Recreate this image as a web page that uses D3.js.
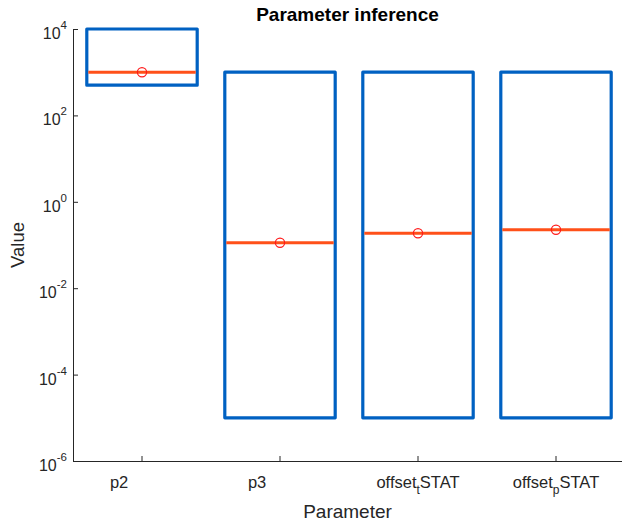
<!DOCTYPE html>
<html>
<head>
<meta charset="utf-8">
<script src="https://d3js.org/d3.v7.min.js"></script>
<style>
  html, body { margin: 0; padding: 0; background: #fff; }
  svg { display: block; font-family: "Liberation Sans", Arial, sans-serif; }
  text { white-space: pre; }
</style>
</head>
<body>
<svg id="chart" width="622" height="526"></svg>
<script>
// Parameter names; "_x" marks a subscripted character in the label
const categories = ["p2", "p3", "offset_tSTAT", "offset_pSTAT"];
const boxLow = [500, 1e-5, 1e-5, 1e-5];
const boxHigh = [1e4, 1000, 1000, 1000];
const medians = [1000, 0.113, 0.187, 0.226];
const estimates = [1000, 0.113, 0.187, 0.226];
const yTickExps = [-6, -4, -2, 0, 2, 4];

// Tick labels are padded with blanks to a common length (char-matrix style)
const labelLen = d3.max(categories, c => c.length);
const tickLabels = categories.map(c => c.padEnd(labelLen, " "));

const svg = d3.select("#chart");
const plotLeft = 73, plotRight = 625, plotTop = 29, plotBottom = 461;
const axisColor = "#262626";

const x = d3.scaleBand().domain(categories).range([plotLeft, plotRight]).padding(0);
const y = d3.scaleLog().domain([1e-6, 1e4]).range([plotBottom, plotTop]);
const boxW = x.bandwidth() * 0.8;

// Boxes, median lines and estimate markers
const g = svg.append("g");
categories.forEach((c, i) => {
  const cx = x(c) + x.bandwidth() / 2;
  g.append("rect")
    .attr("x", cx - boxW / 2)
    .attr("y", y(boxHigh[i]))
    .attr("width", boxW)
    .attr("height", y(boxLow[i]) - y(boxHigh[i]))
    .attr("fill", "none")
    .attr("stroke", "#0061c2")
    .attr("stroke-width", 3.2)
    .attr("stroke-linejoin", "round");
  g.append("line")
    .attr("x1", cx - boxW / 2 + 1.5)
    .attr("x2", cx + boxW / 2 - 1.5)
    .attr("y1", y(medians[i]))
    .attr("y2", y(medians[i]))
    .attr("stroke", "#ff5019")
    .attr("stroke-width", 3);
  g.append("circle")
    .attr("cx", cx)
    .attr("cy", y(estimates[i]))
    .attr("r", 4.6)
    .attr("fill", "none")
    .attr("stroke", "#ff1a1a")
    .attr("stroke-width", 1.2);
});

// Y axis (ticks pointing inward)
const yAxis = d3.axisLeft(y)
  .tickValues(yTickExps.map(e => Math.pow(10, e)))
  .tickSizeInner(-5).tickSizeOuter(0).tickFormat("");
const yg = svg.append("g").attr("transform", `translate(${plotLeft},0)`).call(yAxis);
yg.select(".domain").attr("stroke", axisColor).attr("stroke-width", 1);
yg.selectAll(".tick line").attr("stroke", axisColor);
yTickExps.forEach(e => {
  const t = svg.append("text")
    .attr("x", plotLeft - 6)
    .attr("y", y(Math.pow(10, e)) + 10)
    .attr("text-anchor", "end")
    .attr("fill", axisColor)
    .attr("font-size", 16);
  t.append("tspan").text("10");
  t.append("tspan").attr("dy", -10).attr("font-size", 11.5).text(String(e));
});

// X axis (ticks pointing inward)
const xAxis = d3.axisBottom(x).tickSizeInner(-5).tickSizeOuter(0).tickFormat("");
const xg = svg.append("g").attr("transform", `translate(0,${plotBottom})`).call(xAxis);
xg.select(".domain").attr("stroke", axisColor).attr("stroke-width", 1);
xg.selectAll(".tick line").attr("stroke", axisColor);
tickLabels.forEach((lab, i) => {
  const cx = x(categories[i]) + x.bandwidth() / 2;
  const t = svg.append("text")
    .attr("x", cx)
    .attr("y", plotBottom + 27)
    .attr("text-anchor", "middle")
    .attr("fill", axisColor)
    .attr("font-size", 16.5);
  const k = lab.indexOf("_");
  if (k < 0) {
    t.append("tspan").text(lab);
  } else {
    t.append("tspan").text(lab.slice(0, k));
    t.append("tspan").attr("dy", 6).attr("font-size", 12).text(lab[k + 1]);
    t.append("tspan").attr("dy", -6).text(lab.slice(k + 2));
  }
});

// Titles
svg.append("text")
  .attr("x", (plotLeft + 622) / 2).attr("y", 21)
  .attr("text-anchor", "middle")
  .attr("font-weight", "bold").attr("font-size", 19)
  .attr("fill", "#000")
  .text("Parameter inference");

svg.append("text")
  .attr("x", (plotLeft + 622) / 2).attr("y", 518)
  .attr("text-anchor", "middle")
  .attr("font-size", 19).attr("fill", axisColor)
  .text("Parameter");

svg.append("text")
  .attr("transform", `translate(24,${(plotTop + plotBottom) / 2}) rotate(-90)`)
  .attr("text-anchor", "middle")
  .attr("font-size", 18.5).attr("fill", axisColor)
  .text("Value");
</script>
</body>
</html>
